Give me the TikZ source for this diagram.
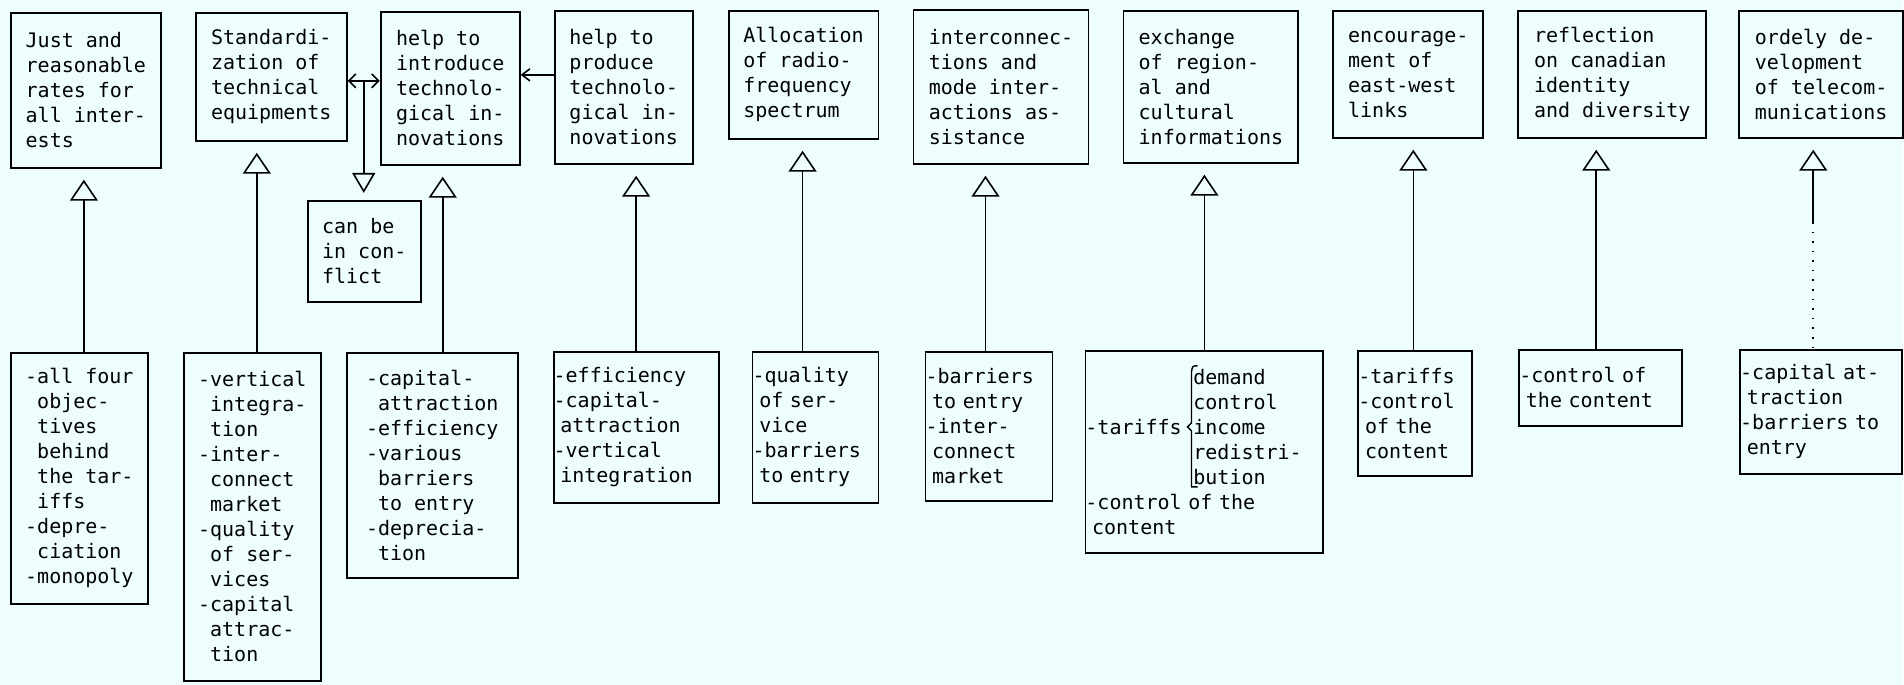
\documentclass[tikz,border=0pt]{standalone}
\usepackage{fontspec}
\newfontfamily\scanfont{DejaVu Sans Mono}
\usepackage{tikz}
\usetikzlibrary{arrows.meta}
\definecolor{paper}{RGB}{238,254,255}

\begin{document}
\begin{tikzpicture}[x=0.5pt,y=-0.5pt,
  box/.style={draw,line width=0.9pt,anchor=north west,inner sep=0pt,align=left,
    font={\scanfont\fontsize{10}{12.5}\selectfont}},
  tbox/.style={box,text width=#1},
  rise/.style={line width=0.8pt,-{Triangle[open,length=10.5pt,width=14pt]},shorten >=5.5pt},
  drop/.style={line width=0.8pt,-{Triangle[open,length=10pt,width=11.5pt]},shorten >=3.5pt},
  twoway/.style={line width=0.8pt,{Straight Barb[length=3.5pt,width=7pt]}-{Straight Barb[length=3.5pt,width=7pt]}},
  feed/.style={line width=0.8pt,-{Straight Barb[length=4pt,width=6pt]}}]
\fill[paper] (0,0) rectangle (1904,685);
% objectives
\node[box,minimum width=75pt,minimum height=77.5pt] (g1) at (10,12) {Just and\\reasonable\\rates for\\all inter-\\ests};
\node[box,minimum width=75.5pt,minimum height=64pt] (g2) at (195,12) {Standardi-\\zation of\\technical\\equipments};
\node[box,minimum width=69.5pt,minimum height=76.5pt] (g3) at (380,11) {help to\\introduce\\technolo-\\gical in-\\novations};
\node[box,minimum width=69pt,minimum height=76.5pt] (g4) at (554,10) {help to\\produce\\technolo-\\gical in-\\novations};
\node[box,minimum width=75pt,minimum height=64pt] (g5) at (728,10) {Allocation\\of radio-\\frequency\\spectrum};
\node[box,minimum width=87.5pt,minimum height=77pt] (g6) at (913,9) {interconnec-\\tions and\\mode inter-\\actions as-\\sistance};
\node[box,minimum width=87.5pt,minimum height=76pt] (g7) at (1123,10) {exchange\\of region-\\al and\\cultural\\informations};
\node[box,minimum width=75pt,minimum height=63.5pt] (g8) at (1333,10) {encourage-\\ment of\\east-west\\links};
\node[box,minimum width=94pt,minimum height=63.5pt] (g9) at (1518,10) {reflection\\on canadian\\identity\\and diversity};
\node[box,minimum width=82pt,minimum height=63.5pt] (g10) at (1739,10) {ordely de-\\velopment\\of telecom-\\munications};
\node[box,minimum width=56.5pt,minimum height=50.5pt] (cf) at (307,200) {can be\\in con-\\flict};
% means
\node[box,minimum width=68.5pt,minimum height=125.5pt] (m1) at (10,352) {-all four\\~objec-\\~tives\\~behind\\~the tar-\\~iffs\\-depre-\\~ciation\\-monopoly};
\node[box,minimum width=68.5pt,minimum height=164pt] (m2) at (183,352) {-vertical\\~integra-\\~tion\\-inter-\\~connect\\~market\\-quality\\~of ser-\\~vices\\-capital\\~attrac-\\~tion};
\node[box,minimum width=85.5pt,minimum height=112.5pt] (m3) at (346,352) {-capital-\\~attraction\\-efficiency\\-various\\~barriers\\~to entry\\-deprecia-\\~tion};
\node[tbox=82.5pt,minimum height=75.5pt] (m4) at (553,351) {-efficiency\\-capital-\\~attraction\\-vertical\\~integration};
\node[tbox=63pt,minimum height=75.5pt] (m5) at (752,351) {-quality\\~of ser-\\~vice\\-barriers\\~to entry};
\node[tbox=63.5pt,minimum height=74.5pt] (m6) at (925,351) {-barriers\\~to entry\\-inter-\\~connect\\~market};
\node[tbox=119pt,minimum height=101pt] (m7) at (1085,350) {\hphantom{-tariffs~}\kern2.5pt demand\\\hphantom{-tariffs~}\kern2.5pt control\\-tariffs~\kern2.5pt income\\\hphantom{-tariffs~}\kern2.5pt redistri-\\\hphantom{-tariffs~}\kern2.5pt bution\\-control of the\\~content};
\node[tbox=57pt,minimum height=62.5pt] (m8) at (1358,350) {-tariffs\\-control\\~of the\\~content};
\node[tbox=81.5pt,minimum height=38pt] (m9) at (1519,349) {-control of\\~the content};
\node[tbox=81pt,minimum height=62pt] (m10) at (1740,349) {-capital at-\\~traction\\-barriers to\\~entry};
% brace in the tariffs box
\draw[line width=0.7pt] (1198,366) .. controls (1193,366) .. (1192,372) -- (1192,423) -- (1188,427) -- (1192,431) -- (1192,487) -- (1198,487);
% links
\foreach \from/\to/\dx in {m1/g1/2.25pt,m2/g2/2.25pt,m3/g3/5.25pt,m4/g4/0pt,m5/g5/-6.5pt,m6/g6/-1.75pt,m7/g7/0pt,m8/g8/-1pt,m9/g9/-2.25pt}
  \draw[rise] ([xshift=\dx]\from.north) -- ([xshift=\dx]\from.north |- \to.south);
\coordinate (k10) at (1814,222);
\draw[rise] (k10) -- (k10 |- g10.south);
\draw[line width=0.8pt,loosely dotted] (k10) -- (k10 |- m10.north);
\draw[twoway] ([yshift=-2pt]g2.east) -- coordinate (cx) ([yshift=-2pt]g2.east -| g3.west);
\draw[drop] (cx) -- (cx |- cf.north);
\draw[feed] ([yshift=6.25pt]g4.west) -- ([yshift=6.25pt]g4.west -| g3.east);
\end{tikzpicture}
\end{document}
